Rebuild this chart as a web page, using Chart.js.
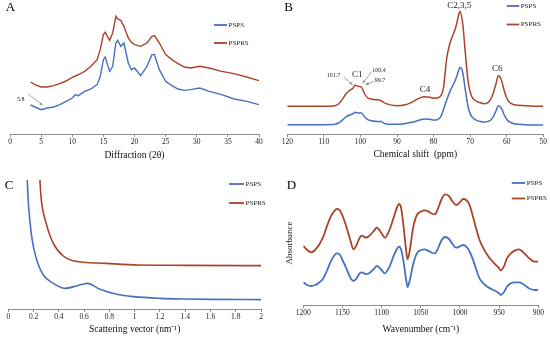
<!DOCTYPE html>
<html>
<head>
<meta charset="utf-8">
<script src="https://cdn.jsdelivr.net/npm/chart.js@4"></script>
<style>
  html, body { margin: 0; padding: 0; background: #fff; }
  #wrap { position: relative; width: 550px; height: 337px; overflow: hidden; }
  canvas { position: absolute; }
</style>
</head>
<body>
<div id="wrap">
  <canvas id="chartA" width="275" height="168" style="left:0;top:0"></canvas>
  <canvas id="chartB" width="275" height="168" style="left:275px;top:0"></canvas>
  <canvas id="chartC" width="275" height="169" style="left:0;top:168px"></canvas>
  <canvas id="chartD" width="275" height="169" style="left:275px;top:168px"></canvas>
</div>
<script>
// ===============================
// Data (arbitrary intensity units)
// ===============================

// A - XRD
const aAngle = [3.3, 4, 5, 6, 7, 8, 9, 10, 10.5, 11, 12, 13, 14, 14.5, 15, 15.3, 16, 16.5, 17, 17.3,
  17.8, 18.3, 19, 19.5, 20, 21, 22, 22.8, 23.2, 24, 25, 26, 27, 28, 29, 30.5, 32, 34, 36, 38, 40];
const aPSPS = [87, 81, 73, 78, 81, 88, 98, 108, 118, 115, 128, 135, 148, 173, 223, 231, 188, 203, 273, 281,
  263, 273, 213, 193, 198, 175, 203, 238, 238, 193, 158, 145, 135, 131, 133, 138, 128, 118, 105, 98, 88];
const aPSPRS = [156, 148, 141, 141, 145, 151, 159, 170, 174, 178, 188, 203, 223, 253, 298, 305, 281, 303, 353, 345,
  341, 323, 288, 275, 268, 263, 273, 293, 295, 273, 238, 223, 211, 201, 198, 203, 198, 188, 181, 171, 160];

// B - 13C NMR
const bShift = [120, 110, 107, 106, 105, 104, 103, 102, 101.5, 100.5, 99.7, 99, 98, 97, 96, 95, 94.5, 94, 93, 90,
  88, 86, 84, 82.5, 81, 80, 79, 78, 77.3, 76.4, 75.5, 74, 73, 72.8, 72, 71.4, 70.5, 69.6, 68.2, 67,
  66, 65, 64, 63, 62.3, 61.5, 60.5, 59.5, 58, 55, 50];
const bPSPS = [28, 28, 29, 33, 41, 51, 57, 61, 65, 63, 63, 53, 43, 40, 38, 37, 38, 35, 30, 29,
  31, 35, 41, 45, 44, 42, 43, 53, 73, 103, 128, 163, 195, 200, 183, 138, 78, 53, 41, 37,
  36, 38, 46, 68, 85, 78, 53, 38, 31, 28, 27];
const bPSPRS = [83, 83, 85, 90, 103, 120, 130, 138, 146, 143, 141, 123, 108, 105, 103, 102, 101, 97, 91, 85,
  87, 95, 107, 112, 110, 107, 108, 115, 138, 228, 273, 318, 363, 368, 328, 253, 153, 113, 98, 93,
  91, 95, 113, 148, 175, 163, 123, 98, 88, 85, 83];

// C - SAXS
const cQ = [0.15, 0.16, 0.185, 0.225, 0.277, 0.356, 0.448, 0.54, 0.626, 0.726, 0.858, 0.99, 1.2, 1.4, 1.6, 2.0];
const cPSPS = [387, 312, 217, 147, 102, 77, 62, 69, 77, 59, 44, 37, 32, 30, 29, 28];
const cQRed = [0.25, 0.26, 0.3, 0.356, 0.435, 0.51, 0.77, 1.03, 1.4, 2.0];
const cPSPRS = [387, 332, 257, 197, 159, 145, 137, 132, 131, 130];

// D - FTIR
const dWave = [1200, 1195, 1190, 1185, 1180, 1175, 1170, 1165, 1160, 1157, 1153, 1150, 1145, 1140, 1136, 1132, 1128, 1125, 1120, 1116,
  1110, 1106, 1100, 1096, 1090, 1085, 1080, 1078, 1075, 1072, 1069, 1067, 1064, 1060, 1055, 1050, 1045, 1040, 1035, 1032,
  1028, 1024, 1019, 1014, 1010, 1005, 1000, 996, 992, 988, 984, 980, 975, 970, 965, 960, 955, 950, 948, 944,
  940, 935, 930, 925, 920, 915, 910, 905, 900];
const dPSPS = [68, 60, 57, 60, 67, 78, 102, 130, 150, 155, 150, 135, 110, 82, 72, 80, 95, 98, 93, 95,
  108, 117, 105, 95, 115, 145, 170, 175, 165, 130, 80, 54, 75, 120, 155, 165, 167, 162, 156, 155,
  170, 192, 204, 198, 185, 172, 176, 180, 175, 162, 140, 112, 80, 65, 55, 48, 42, 35, 30, 38,
  55, 65, 68, 68, 64, 55, 48, 45, 45];
const dPSPRS = [177, 165, 158, 165, 180, 202, 235, 265, 283, 288, 283, 268, 235, 195, 167, 180, 202, 208, 202, 207,
  222, 232, 215, 202, 225, 260, 295, 303, 290, 235, 170, 137, 165, 230, 270, 280, 284, 280, 273, 272,
  290, 315, 332, 327, 312, 300, 308, 318, 315, 302, 270, 235, 195, 170, 150, 135, 122, 110, 104, 115,
  140, 155, 163, 167, 160, 148, 137, 130, 130];

// ===============================
// Helpers
// ===============================
const BLUE = "#4670C2";
const RED = "#A9442A";
const SERIF = "'Liberation Serif', 'Times New Roman', serif";

const pairs = (xs, ys) => xs.map((x, i) => ({ x, y: ys[i] }));

// texts, arrows and legend drawn on top of the plot
const notesPlugin = {
  id: "notes",
  afterDatasetsDraw(chart, args, opts) {
    const ctx = chart.ctx;
    const xs = chart.scales.x, ys = chart.scales.y;
    ctx.save();
    ctx.textAlign = "center";
    ctx.textBaseline = "middle";

    if (opts.letter) {
      ctx.font = "13px " + SERIF;
      ctx.fillStyle = "#000";
      ctx.fillText(opts.letter.text, opts.letter.x, opts.letter.y);
    }

    (opts.arrows || []).forEach(a => {
      const x1 = xs.getPixelForValue(a.from[0]), y1 = ys.getPixelForValue(a.from[1]);
      const x2 = xs.getPixelForValue(a.to[0]), y2 = ys.getPixelForValue(a.to[1]);
      ctx.strokeStyle = "#8f8f8f";
      ctx.fillStyle = "#8f8f8f";
      ctx.lineWidth = 0.8;
      ctx.beginPath(); ctx.moveTo(x1, y1); ctx.lineTo(x2, y2); ctx.stroke();
      const ang = Math.atan2(y2 - y1, x2 - x1);
      ctx.beginPath();
      ctx.moveTo(x2, y2);
      ctx.lineTo(x2 - 3.5 * Math.cos(ang - 0.45), y2 - 3.5 * Math.sin(ang - 0.45));
      ctx.lineTo(x2 - 3.5 * Math.cos(ang + 0.45), y2 - 3.5 * Math.sin(ang + 0.45));
      ctx.closePath(); ctx.fill();
    });

    (opts.labels || []).forEach(l => {
      ctx.font = l.size + "px " + SERIF;
      ctx.fillStyle = "#222";
      ctx.fillText(l.text, xs.getPixelForValue(l.x), ys.getPixelForValue(l.y));
    });

    if (opts.yTitle) {
      ctx.translate(opts.yTitle.x, opts.yTitle.y);
      ctx.rotate(-Math.PI / 2);
      ctx.font = opts.yTitle.size + "px " + SERIF;
      ctx.fillStyle = "#222";
      ctx.fillText(opts.yTitle.text, 0, 0);
      ctx.setTransform(1, 0, 0, 1, 0, 0);
    }

    const lg = opts.legend;
    if (lg) {
      chart.data.datasets.forEach((ds, i) => {
        const y = lg.y + i * lg.gap;
        ctx.strokeStyle = ds.borderColor;
        ctx.lineWidth = 1.8;
        ctx.beginPath(); ctx.moveTo(lg.x, y); ctx.lineTo(lg.x + lg.len, y); ctx.stroke();
        ctx.font = "7px " + SERIF;
        ctx.textAlign = "left";
        ctx.fillStyle = "#222";
        ctx.fillText(ds.label, lg.x + lg.len + 1.5, y);
      });
    }
    ctx.restore();
  }
};

const makePanel = (id, cfg) => new Chart(document.getElementById(id), {
  type: "line",
  data: {
    datasets: [
      { label: "PSPS", data: cfg.blue, borderColor: BLUE, borderWidth: cfg.lw },
      { label: "PSPRS", data: cfg.red, borderColor: RED, borderWidth: cfg.lw }
    ]
  },
  options: {
    responsive: false,
    animation: false,
    layout: { padding: cfg.pad },
    elements: {
      point: { radius: 0 },
      line: { tension: cfg.smooth ? 0.4 : 0, cubicInterpolationMode: cfg.smooth ? "monotone" : "default" }
    },
    plugins: {
      legend: { display: false },
      tooltip: { enabled: false },
      notes: cfg.notes
    },
    scales: {
      x: {
        type: "linear",
        min: cfg.xmin, max: cfg.xmax, reverse: !!cfg.reverse,
        afterFit: s => { s.height = cfg.xh; },
        border: { display: true, color: "#8c8c8c", width: 1 },
        grid: { display: true, drawOnChartArea: false, drawTicks: true, tickLength: 3, color: "#8c8c8c" },
        ticks: {
          stepSize: cfg.step, autoSkip: false, maxRotation: 0, padding: 1,
          color: "#222", font: { family: SERIF, size: 7.5 },
          callback: v => String(Math.round(v * 10) / 10)
        },
        title: {
          display: true, text: cfg.title, color: "#111",
          font: { family: SERIF, size: 9.5 },
          padding: { top: 2, bottom: cfg.tpad }
        }
      },
      y: { display: false, min: 0, max: cfg.ymax }
    }
  },
  plugins: [notesPlugin]
});

// ===============================
// Panels
// ===============================
makePanel("chartA", {
  blue: pairs(aAngle, aPSPS), red: pairs(aAngle, aPSPRS), lw: 1.4, smooth: false,
  pad: { left: 10, right: 16, top: 10, bottom: 3 }, xh: 31, tpad: 4,
  xmin: 0, xmax: 40, step: 5, ymax: 372, title: "Diffraction (2θ)",
  notes: {
    letter: { text: "A", x: 10.5, y: 8 },
    labels: [{ text: "5.8", x: 1.72, y: 104, size: 6 }],
    arrows: [{ from: [2.94, 120], to: [5.25, 86] }],
    legend: { x: 214, y: 25, gap: 18, len: 13 }
  }
});

makePanel("chartB", {
  blue: pairs(bShift, bPSPS), red: pairs(bShift, bPSPRS), lw: 1.5, smooth: true,
  pad: { left: 12.3, right: 6.7, top: 4, bottom: 4 }, xh: 30, tpad: 4,
  xmin: 50, xmax: 120, reverse: true, step: 10, ymax: 390, title: "Chemical shift  (ppm)",
  notes: {
    letter: { text: "B", x: 13.5, y: 8 },
    labels: [
      { text: "101.7", x: 107.4, y: 176, size: 6 },
      { text: "C1", x: 100.9, y: 177, size: 9 },
      { text: "100.4", x: 94.9, y: 190, size: 6 },
      { text: "99.7", x: 94.65, y: 160, size: 6 },
      { text: "C4", x: 82.35, y: 132, size: 9 },
      { text: "C2,3,5", x: 72.95, y: 386, size: 9 },
      { text: "C6", x: 62.6, y: 197, size: 9 }
    ],
    arrows: [
      { from: [104.5, 170], to: [102.2, 148] },
      { from: [96.9, 187], to: [99.4, 152] },
      { from: [96.2, 158], to: [98.6, 148] }
    ],
    legend: { x: 231.7, y: 6, gap: 18.5, len: 12.5 }
  }
});

makePanel("chartC", {
  blue: pairs(cQ, cPSPS), red: pairs(cQRed, cPSPRS), lw: 1.6, smooth: true,
  pad: { left: 8.3, right: 14, top: 12, bottom: 0 }, xh: 28, tpad: 2,
  xmin: 0, xmax: 2, step: 0.2, ymax: 387, title: "Scattering vector (nm⁻¹)",
  notes: {
    letter: { text: "C", x: 9, y: 18 },
    legend: { x: 229, y: 16, gap: 19, len: 15 }
  }
});

makePanel("chartD", {
  blue: pairs(dWave, dPSPS), red: pairs(dWave, dPSPRS), lw: 1.8, smooth: true,
  pad: { left: 28.3, right: 11.7, top: 12, bottom: 0 }, xh: 32, tpad: 2,
  xmin: 900, xmax: 1200, reverse: true, step: 50, ymax: 375, title: "Wavenumber (cm⁻¹)",
  notes: {
    letter: { text: "D", x: 16.5, y: 18 },
    yTitle: { text: "Absorbance", x: 15, y: 75, size: 9 },
    legend: { x: 236.7, y: 15, gap: 15.5, len: 13.5 }
  }
});
</script>
</body>
</html>
